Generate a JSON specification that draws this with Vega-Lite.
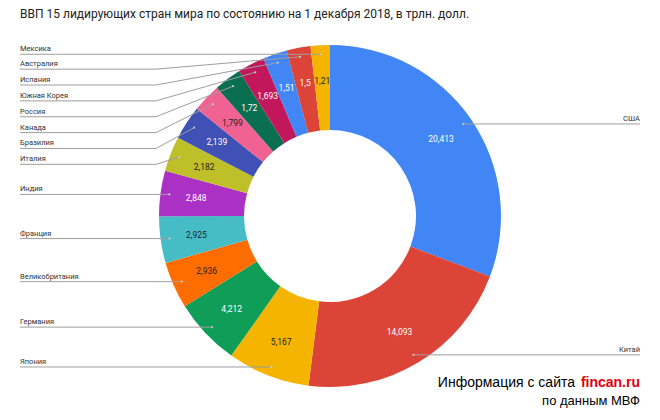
{
  "$schema": "https://vega.github.io/schema/vega-lite/v6.json",
  "width": 660,
  "height": 364,
  "autosize": {"type": "none"},
  "padding": {"top": 34, "left": 0, "right": 0, "bottom": 22},
  "config": {
    "view": {"stroke": null},
    "font": "Roboto",
    "locale": {"number": {"decimal": ",", "thousands": " ", "grouping": [3], "currency": ["", ""]}}
  },
  "title": {
    "text": "ВВП 15 лидирующих стран мира по состоянию на 1 декабря 2018, в трлн. долл.",
    "anchor": "start",
    "frame": "group",
    "dx": 20,
    "offset": 4,
    "baseline": "alphabetic",
    "font": "Roboto",
    "fontSize": 12,
    "fontWeight": "normal",
    "color": "#222222"
  },
  "layer": [
    {
      "data": {
        "values": [
          {"country": "США", "value": 20.413},
          {"country": "Китай", "value": 14.093},
          {"country": "Япония", "value": 5.167},
          {"country": "Германия", "value": 4.212},
          {"country": "Великобритания", "value": 2.936},
          {"country": "Франция", "value": 2.925},
          {"country": "Индия", "value": 2.848},
          {"country": "Италия", "value": 2.182},
          {"country": "Бразилия", "value": 2.139},
          {"country": "Канада", "value": 1.799},
          {"country": "Россия", "value": 1.72},
          {"country": "Южная Корея", "value": 1.693},
          {"country": "Испания", "value": 1.51},
          {"country": "Австралия", "value": 1.5},
          {"country": "Мексика", "value": 1.21}
        ]
      },
      "transform": [
        {"joinaggregate": [{"op": "sum", "field": "value", "as": "total"}]},
        {"window": [{"op": "sum", "field": "value", "as": "cum"}], "sort": [{"field": "value", "order": "descending"}], "frame": [null, 0]},
        {"window": [{"op": "row_number", "as": "k"}], "sort": [{"field": "value", "order": "ascending"}], "frame": [null, null]},
        {"calculate": "2*PI*(datum.cum - datum.value/2)/datum.total", "as": "mid"},
        {"calculate": "162*sin(datum.mid)", "as": "ax"},
        {"calculate": "162*cos(datum.mid)", "as": "ay"},
        {"calculate": "datum.mid < PI ? 'right' : 'left'", "as": "side"},
        {"calculate": "datum.side == 'right' ? datum.ay : min(datum.ay, 162.7 - 15.86*(datum.k-1))", "as": "ly"},
        {"calculate": "datum.side == 'right' ? 310 : -310", "as": "lx"},
        {"calculate": "datum.side == 'right' ? datum.ax : -174", "as": "bx"}
      ],
      "layer": [
        {
          "mark": {"type": "arc", "outerRadius": 171, "innerRadius": 86},
          "encoding": {
            "theta": {"field": "value", "type": "quantitative", "stack": true},
            "order": {"field": "value", "sort": "descending"},
            "color": {
              "field": "country",
              "type": "nominal",
              "legend": null,
              "scale": {
                "domain": ["США", "Китай", "Япония", "Германия", "Великобритания", "Франция", "Индия", "Италия", "Бразилия", "Канада", "Россия", "Южная Корея", "Испания", "Австралия", "Мексика"],
                "range": ["#4285F4", "#DB4437", "#F4B400", "#0F9D58", "#FF6D01", "#46BDC6", "#AB30C4", "#BFBF2A", "#3F51B5", "#F06292", "#0A6E50", "#C2185B", "#4285F4", "#DB4437", "#F4B400"]
              }
            }
          }
        },
        {
          "mark": {"type": "text", "radius": 135, "fontSize": 8.5, "font": "Roboto"},
          "encoding": {
            "theta": {"field": "value", "type": "quantitative", "stack": true},
            "order": {"field": "value", "sort": "descending"},
            "text": {"field": "value", "type": "quantitative", "format": ".3~f"},
            "color": {
              "condition": {"test": "indexof(['Мексика','Канада','Италия','Франция','Великобритания','Япония'], datum.country) >= 0", "value": "#222222"},
              "value": "#ffffff"
            }
          }
        },
        {
          "mark": {"type": "rule", "color": "#9e9e9e", "strokeWidth": 1},
          "encoding": {
            "x": {"field": "lx", "type": "quantitative", "scale": {"domain": [-330, 330], "nice": false, "zero": false}, "axis": null},
            "x2": {"field": "bx"},
            "y": {"field": "ly", "type": "quantitative", "scale": {"domain": [-182, 182], "nice": false, "zero": false}, "axis": null}
          }
        },
        {
          "mark": {"type": "rule", "color": "#9e9e9e", "strokeWidth": 1},
          "encoding": {
            "x": {"field": "bx", "type": "quantitative", "scale": {"domain": [-330, 330], "nice": false, "zero": false}, "axis": null},
            "x2": {"field": "ax"},
            "y": {"field": "ly", "type": "quantitative", "scale": {"domain": [-182, 182], "nice": false, "zero": false}, "axis": null},
            "y2": {"field": "ay"}
          }
        },
        {
          "mark": {"type": "point", "filled": true, "size": 5, "color": "#cfcfcf", "opacity": 0.9},
          "encoding": {
            "x": {"field": "ax", "type": "quantitative", "scale": {"domain": [-330, 330], "nice": false, "zero": false}, "axis": null},
            "y": {"field": "ay", "type": "quantitative", "scale": {"domain": [-182, 182], "nice": false, "zero": false}, "axis": null}
          }
        },
        {
          "transform": [{"filter": "datum.side == 'left'"}],
          "mark": {"type": "text", "align": "left", "baseline": "alphabetic", "dy": -3, "fontSize": 7.5, "font": "Roboto", "color": "#333333"},
          "encoding": {
            "x": {"field": "lx", "type": "quantitative", "scale": {"domain": [-330, 330], "nice": false, "zero": false}, "axis": null},
            "y": {"field": "ly", "type": "quantitative", "scale": {"domain": [-182, 182], "nice": false, "zero": false}, "axis": null},
            "text": {"field": "country"}
          }
        },
        {
          "transform": [{"filter": "datum.side == 'right'"}],
          "mark": {"type": "text", "align": "right", "baseline": "alphabetic", "dy": -3, "fontSize": 7.5, "font": "Roboto", "color": "#333333"},
          "encoding": {
            "x": {"field": "lx", "type": "quantitative", "scale": {"domain": [-330, 330], "nice": false, "zero": false}, "axis": null},
            "y": {"field": "ly", "type": "quantitative", "scale": {"domain": [-182, 182], "nice": false, "zero": false}, "axis": null},
            "text": {"field": "country"}
          }
        }
      ]
    },
    {
      "data": {"values": [{"t": "Информация с сайта"}]},
      "mark": {"type": "text", "align": "right", "baseline": "alphabetic", "dx": -4, "fontSize": 14, "font": "Liberation Sans", "color": "#000000"},
      "encoding": {
        "x": {"datum": 249, "type": "quantitative", "scale": {"domain": [-330, 330], "nice": false, "zero": false}, "axis": null},
        "y": {"datum": -171, "type": "quantitative", "scale": {"domain": [-182, 182], "nice": false, "zero": false}, "axis": null},
        "text": {"field": "t"}
      }
    },
    {
      "data": {"values": [{"t": "fincan.ru"}]},
      "mark": {"type": "text", "align": "right", "baseline": "alphabetic", "fontSize": 14, "fontWeight": "bold", "font": "Liberation Sans", "color": "#e3000f"},
      "encoding": {
        "x": {"datum": 310, "type": "quantitative", "scale": {"domain": [-330, 330], "nice": false, "zero": false}, "axis": null},
        "y": {"datum": -171, "type": "quantitative", "scale": {"domain": [-182, 182], "nice": false, "zero": false}, "axis": null},
        "text": {"field": "t"}
      }
    },
    {
      "data": {"values": [{"t": "по данным МВФ"}]},
      "mark": {"type": "text", "align": "right", "baseline": "alphabetic", "fontSize": 13, "font": "Liberation Sans", "color": "#000000"},
      "encoding": {
        "x": {"datum": 310, "type": "quantitative", "scale": {"domain": [-330, 330], "nice": false, "zero": false}, "axis": null},
        "y": {"datum": -189, "type": "quantitative", "scale": {"domain": [-182, 182], "nice": false, "zero": false}, "axis": null},
        "text": {"field": "t"}
      }
    }
  ]
}
